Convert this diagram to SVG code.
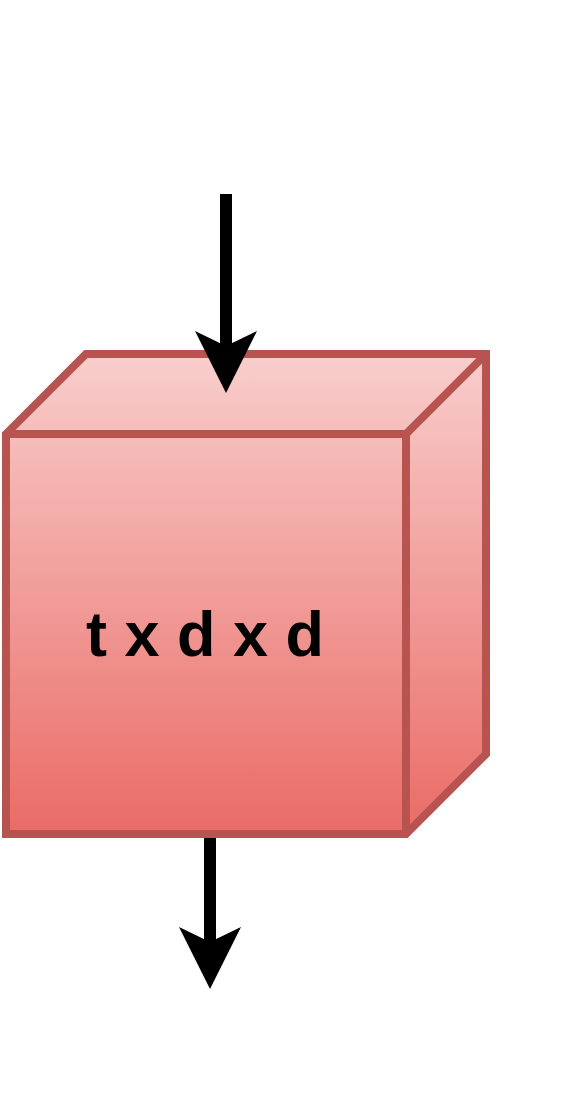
<svg xmlns="http://www.w3.org/2000/svg" width="568" height="1112" viewBox="0 0 568 1112">
  <style>
    .face { stroke: #b85450; stroke-width: 8; stroke-linejoin: miter; fill: url(#g); }
    .edge { stroke: #b85450; stroke-width: 8; stroke-linejoin: miter; fill: none; }
    .conn { stroke: #000; stroke-width: 12; fill: none; }
    .lbl { font-family: "Liberation Sans", Arial, sans-serif; font-weight: bold; font-size: 63px; fill: #000; }
  </style>
  <defs>
    <linearGradient id="g" gradientUnits="userSpaceOnUse" x1="0" y1="354" x2="0" y2="834">
      <stop offset="0" stop-color="#f8cecc"/>
      <stop offset="1" stop-color="#ea6b66"/>
    </linearGradient>
    <marker id="arr" viewBox="-62 -31 62 62" refX="-47" refY="0" markerWidth="62" markerHeight="62" markerUnits="userSpaceOnUse" orient="auto">
      <path d="M0,0 L-62,-31 L-47,0 L-62,31 Z" fill="#000"/>
    </marker>
  </defs>
  <rect width="568" height="1112" fill="#fff"/>
  <g id="cube">
    <path class="face" d="M6,434 L86,354 L486,354 L486,754 L406,834 L6,834 Z"/>
    <path class="edge" d="M6,434 L406,434 L406,834 M406,434 L486,354"/>
    <text class="lbl" x="205" y="656" text-anchor="middle">t x d x d</text>
  </g>
  <g id="connectors">
    <line class="conn" x1="226" y1="194" x2="226" y2="346" marker-end="url(#arr)"/>
    <line class="conn" x1="210" y1="838" x2="210" y2="942" marker-end="url(#arr)"/>
  </g>
</svg>
